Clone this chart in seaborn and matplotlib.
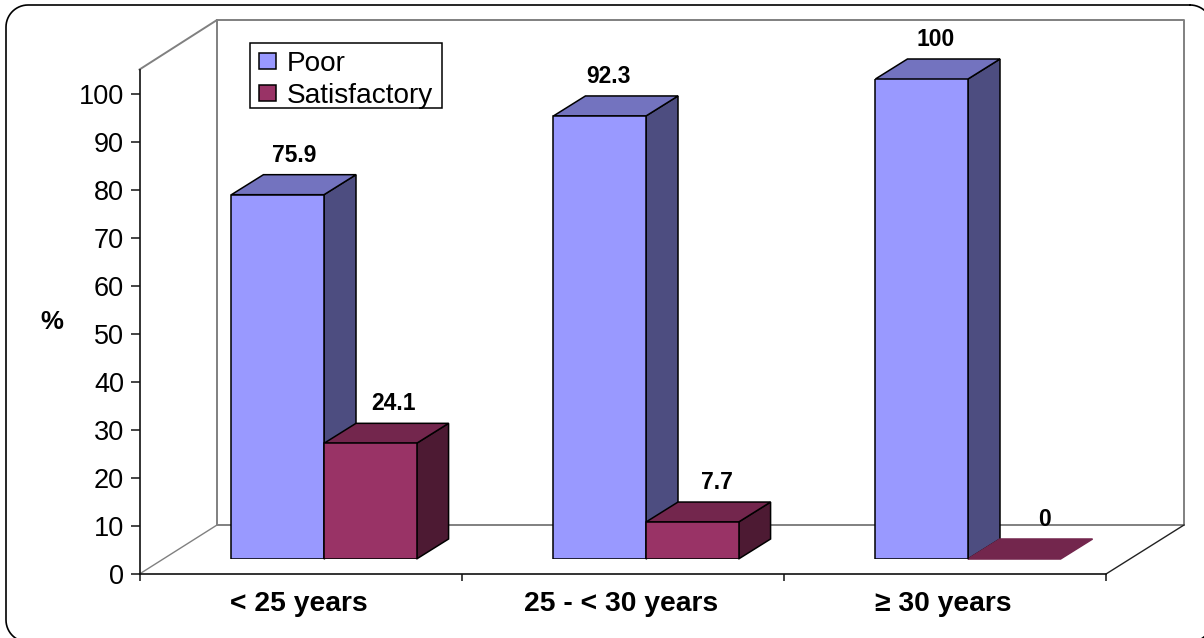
import matplotlib
matplotlib.use("Agg")
import matplotlib.pyplot as plt
from matplotlib.lines import Line2D
from matplotlib.patches import Polygon, Rectangle
import numpy as np
import pandas as pd
import seaborn as sns

categories = ["< 25 years", "25 - < 30 years", "≥ 30 years"]
poor = [75.9, 92.3, 100]
satisfactory = [24.1, 7.7, 0]
series_names = ["Poor", "Satisfactory"]
y_ticks = list(range(0, 101, 10))

W, H = 1204, 638
sns.set_theme(style="white")
plt.rcParams["font.family"] = ["Liberation Sans", "DejaVu Sans"]

FRONT = {"Poor": "#9999FF", "Satisfactory": "#993366"}
TOP = {"Poor": "#7373BF", "Satisfactory": "#73264D"}
SIDE = {"Poor": "#4D4D80", "Satisfactory": "#4D1A33"}

df = pd.DataFrame({
    "group": categories * 2,
    "series": [series_names[0]] * 3 + [series_names[1]] * 3,
    "value": poor + satisfactory,
})

fig = plt.figure(figsize=(W / 100, H / 100), dpi=100, facecolor="white")


def rect(l, r, top, bottom):
    return [l / W, 1 - bottom / H, (r - l) / W, (bottom - top) / H]


def wall(xs, ys, color="#808080", lw=1.4, zorder=-1):
    fx = [x / W for x in xs]
    fy = [1 - y / H for y in ys]
    fig.add_artist(Line2D(fx, fy, color=color, lw=lw, zorder=zorder, solid_capstyle="projecting"))


# outer rounded frame (runs slightly past the right and bottom edges)
def rounded_outline(l, r, t, b, rad, n=16):
    xs, ys = [], []
    corners = [(r - rad, t + rad, -90), (r - rad, b - rad, 0), (l + rad, b - rad, 90), (l + rad, t + rad, 180)]
    for cx, cy, start in corners:
        ang = np.radians(np.linspace(start, start + 90, n))
        xs.extend(cx + rad * np.cos(ang))
        ys.extend(cy + rad * np.sin(ang))
    xs.append(xs[0])
    ys.append(ys[0])
    return xs, ys


fx, fy = rounded_outline(6, 1212, 5, 642, 22)
wall(fx, fy, color="black", lw=1.2, zorder=-2)

# back walls and floor
wall([139.5, 217, 1184, 1184, 217, 217], [69.5, 20, 20, 525, 525, 20])
wall([139.5, 217], [574, 525], lw=1.0)
wall([1106, 1184], [574, 525], color="#222222", lw=1.0)

# axis plane: ticks, labels, front edges of the floor
ax_axis = fig.add_axes(rect(139.5, 1105.5, 69.5, 574))
ax_axis.patch.set_visible(False)
ax_axis.set_xlim(-0.5, 2.5)
ax_axis.set_ylim(0, (574 - 69.5) / 4.8)
ax_axis.set_yticks(y_ticks)
ax_axis.set_yticklabels([str(v) for v in y_ticks], fontsize=19.5, color="black")
ax_axis.set_xticks([-0.5, 0.5, 1.5, 2.5])
ax_axis.set_xticklabels([])
ax_axis.set_xticks([-0.005, 0.997, 1.997], minor=True)
ax_axis.set_xticklabels(categories, minor=True, fontsize=20.3, fontweight="bold", color="black")
ax_axis.tick_params(axis="x", which="major", bottom=True, length=5, width=1.1, color="#111111")
ax_axis.tick_params(axis="x", which="minor", bottom=False, length=0, pad=12.5)
ax_axis.tick_params(axis="y", left=True, length=6.5, width=1.1, color="#111111", pad=4.5)
for name, spine in ax_axis.spines.items():
    spine.set_visible(name in ("left", "bottom"))
    spine.set_color("#111111")
    spine.set_linewidth(1.2)
ax_axis.set_ylabel("")
fig.text(52 / W, 1 - 322 / H, "%", fontsize=18.5, fontweight="bold", ha="center", va="center", color="black")

# bars plane: sits mid-depth on the floor
ax = fig.add_axes(rect(163, 1129, 79, 559))
ax.set_zorder(1)
ax.patch.set_visible(False)
sns.barplot(data=df, x="group", y="value", hue="series", order=categories,
            hue_order=series_names, palette=FRONT, saturation=1, width=0.575,
            gap=0, edgecolor="black", linewidth=1.1, errorbar=None, ax=ax, legend=True)
ax.set_xlim(-0.5, 2.5)
ax.set_ylim(0, 100)
ax.set_xlabel("")
ax.set_ylabel("")
ax.set_xticks([])
ax.set_yticks([])
for spine in ax.spines.values():
    spine.set_visible(False)

dx = 32 / 322
dy = 20 / 4.8
bars = [p for p in ax.patches]
names = [series_names[0]] * 3 + [series_names[1]] * 3
values = poor + satisfactory
label_nudge_px = [16.5, 8.5, 13.5, 23, 24.5, 30]
for p, name, val, nudge in zip(bars, names, values, label_nudge_px):
    x0, x1 = p.get_x(), p.get_x() + p.get_width()
    h = p.get_height()
    base_z = 1 if name == series_names[0] else 2
    ec = "black" if val > 0 else TOP[name]
    p.set_zorder(3)
    if val == 0:
        p.set_edgecolor("none")
    if val > 0:
        ax.add_patch(Polygon([(x1, 0), (x1 + dx, dy), (x1 + dx, h + dy), (x1, h)], closed=True,
                             fc=SIDE[name], ec="black", lw=1.1, zorder=base_z, clip_on=False))
    ax.add_patch(Polygon([(x0, h), (x0 + dx, h + dy), (x1 + dx, h + dy), (x1, h)], closed=True,
                         fc=TOP[name], ec=ec, lw=1.1, zorder=base_z, clip_on=False))
    ax.annotate(f"{val:g}", xy=((x0 + x1) / 2, h), xytext=(nudge * 0.72, 39.5 * 0.72),
                textcoords="offset points", ha="center", va="center", fontsize=16.5,
                fontweight="bold", color="black", annotation_clip=False, zorder=5)

# legend: frame drawn separately so that its height can be tighter than the text padding allows
fig.add_artist(Rectangle((250 / W, 1 - 108 / H), 192 / W, 65 / H, fc="white", ec="black", lw=1.1, zorder=0.5))
handles, labels = ax.get_legend_handles_labels()
leg = ax.legend(handles, labels, loc="upper left",
                bbox_to_anchor=((251 - 163) / 966, 1 + (79 - 43) / 480),
                frameon=False, fontsize=20.2, handlelength=0.6, handleheight=0.5, handletextpad=0.36,
                labelspacing=0.2, borderpad=0.3, borderaxespad=0, title=None)
for t in leg.get_texts():
    t.set_color("black")
leg.set_zorder(6)

fig.savefig("out.png", dpi=100, facecolor="white")
